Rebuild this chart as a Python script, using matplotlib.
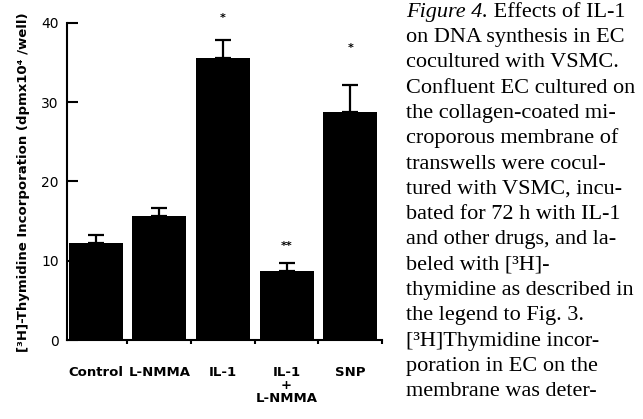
import matplotlib
matplotlib.use("Agg")
import matplotlib.pyplot as plt
import numpy as np

# data
groups = ["Control", "L-NMMA", "IL-1", "IL-1\n+\nL-NMMA", "SNP"]
means = [12.2, 15.6, 35.6, 8.7, 28.8]
sems = [1.0, 1.1, 2.2, 0.95, 3.4]
stars = ["", "", "*", "**", "*"]
star_y = [0, 0, 40.6, 11.9, 36.8]

caption = [
    "on DNA synthesis in EC",
    "cocultured with VSMC.",
    "Confluent EC cultured on",
    "the collagen-coated mi-",
    "croporous membrane of",
    "transwells were cocul-",
    "tured with VSMC, incu-",
    "bated for 72 h with IL-1",
    "and other drugs, and la-",
    "beled with [³H]-",
    "thymidine as described in",
    "the legend to Fig. 3.",
    "[³H]Thymidine incor-",
    "poration in EC on the",
    "membrane was deter-",
]

W, H = 643, 419
fig = plt.figure(figsize=(W / 100, H / 100), dpi=100)
ax = fig.add_axes([67 / W, 1 - 340 / H, (382 - 67) / W, (340 - 22.7) / H])

x = np.arange(len(groups))
ax.bar(x, means, width=0.85, color="black", zorder=2)
ax.errorbar(x, means, yerr=[np.zeros(len(sems)), sems], fmt="none",
            ecolor="black", elinewidth=1.6, capsize=6, capthick=1.6, zorder=1)
for xi, s, sy in zip(x, stars, star_y):
    if s:
        ax.text(xi, sy, s, ha="center", va="center", fontsize=8,
                fontweight="bold", clip_on=False)

ax.set_xlim(-0.45, 4.5)
ax.set_ylim(0, 40)
ax.set_yticks([0, 10, 20, 30, 40])
ax.tick_params(axis="y", direction="in", length=8, width=1.5, labelsize=10, pad=6)
ax.set_xticks(x)
ax.set_xticklabels(groups, fontsize=9.5, fontweight="bold", linespacing=1.0, va="top")
ax.tick_params(axis="x", which="major", length=0, pad=19)
ax.set_xticks(x + 0.5, minor=True)
ax.tick_params(axis="x", which="minor", direction="out", length=3, width=1.5)
for side in ["top", "right"]:
    ax.spines[side].set_visible(False)
for side in ["left", "bottom"]:
    ax.spines[side].set_linewidth(1.5)

fig.text(24 / W, 1 - 182 / H, "[³H]-Thymidine Incorporation (dpmx10⁴ /well)",
         rotation=90, ha="center", va="center", fontsize=9.5, fontweight="bold")

# caption on the right
cx = 406 / W
cap_kw = dict(family="Liberation Serif", fontsize=16, va="baseline")
t1 = fig.text(cx, 1 - 16.7 / H, "Figure 4.", style="italic", **cap_kw)
ax.annotate(" Effects of IL-1", xy=(1, 0), xycoords=t1, ha="left", va="bottom",
            family="Liberation Serif", fontsize=16, annotation_clip=False)
for i, line in enumerate(caption):
    fig.text(cx, 1 - (16.7 + 25.3 * (i + 1)) / H, line, **cap_kw)

fig.savefig("out.png", dpi=100)
